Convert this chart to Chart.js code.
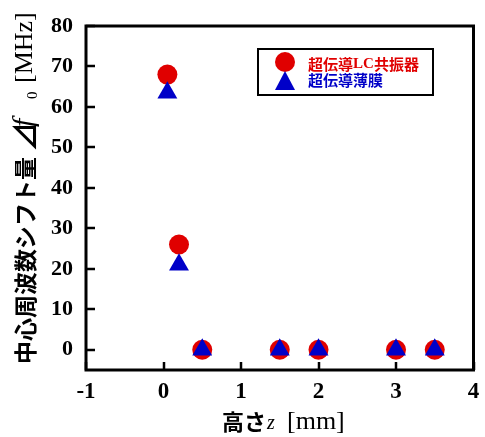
<!DOCTYPE html>
<html>
<head>
<meta charset="utf-8">
<script src="https://cdn.jsdelivr.net/npm/chart.js@4.4.0/dist/chart.umd.min.js"></script>
<style>
body{margin:0;background:#fff}
#wrap{width:485px;height:437px}
</style>
</head>
<body>
<div id="wrap"><canvas id="c" width="485" height="437"></canvas></div>
<script>
// 高さ z [mm]
var heights = [0.05, 0.2, 0.5, 1.5, 2, 3, 3.5]
// 中心周波数シフト量 [MHz]
var lcShift = [68, 26, 0, 0, 0, 0, 0]
var filmShift = [63.5, 21, 0, 0, 0, 0, 0]
var xTicks = [-1, 0, 1, 2, 3, 4]
var yTicks = [0, 10, 20, 30, 40, 50, 60, 70, 80]
var labelLC = "超伝導LC共振器"
var labelFilm = "超伝導薄膜"

var red = "#e00000"
var blue = "#0000c8"
var serif = '"Liberation Serif", "DejaVu Serif", serif'
var jp = '"Noto Sans CJK JP", sans-serif'

function pts(ys){
	var out = []
	for(var i=0;i<heights.length;i++){
		out.push({x: heights[i], y: ys[i]})
	}
	return out
}

// text pieces, each at its own offset along the line
function row(ctx, list, x, y){
	for(var i=0;i<list.length;i++){
		var p = list[i]
		ctx.font = p.font
		ctx.fillStyle = p.color || "#000"
		ctx.fillText(p.text, x + p.at, y + (p.dy || 0))
	}
}

var extras = {
	id: "extras",
	afterDraw: function(chart){
		var ctx = chart.ctx
		var a = chart.chartArea
		var xs = chart.scales.x, ys = chart.scales.y
		ctx.save()
		// frame
		ctx.strokeStyle = "#000"
		ctx.lineWidth = 3
		ctx.strokeRect(a.left, a.top, a.right - a.left, a.bottom - a.top)
		// inward ticks
		ctx.lineWidth = 2.5
		ctx.beginPath()
		for(var i=0;i<yTicks.length;i++){
			var py = Math.round(ys.getPixelForValue(yTicks[i]))
			ctx.moveTo(a.left, py)
			ctx.lineTo(a.left + 9, py)
		}
		for(var i=0;i<xTicks.length;i++){
			var px = Math.round(xs.getPixelForValue(xTicks[i]))
			ctx.moveTo(px, a.bottom)
			ctx.lineTo(px, a.bottom - 8)
		}
		ctx.stroke()

		// legend
		ctx.lineWidth = 2
		ctx.strokeRect(258, 49, 175, 46)
		ctx.fillStyle = red
		ctx.beginPath()
		ctx.arc(285, 62, 10, 0, Math.PI*2)
		ctx.fill()
		ctx.fillStyle = blue
		ctx.beginPath()
		ctx.moveTo(285, 71)
		ctx.lineTo(295, 90)
		ctx.lineTo(275, 90)
		ctx.closePath()
		ctx.fill()
		ctx.textBaseline = "middle"
		ctx.textAlign = "left"
		row(ctx, [
			{text: "超伝導", font: "bold 15px " + jp, color: red, at: 0},
			{text: "LC", font: "bold 15px " + serif, color: red, at: 45},
			{text: "共振器", font: "bold 15px " + jp, color: red, at: 66}
		], 308, 64)
		row(ctx, [{text: labelFilm, font: "bold 15px " + jp, color: blue, at: 0}], 308, 80)

		// x title
		row(ctx, [
			{text: "高さ", font: "bold 22px " + jp, at: 0},
			{text: "z", font: "italic 20px " + serif, at: 45, dy: 2},
			{text: "[mm]", font: "26px " + serif, at: 65}
		], 222, 422)

		// y title
		ctx.translate(25, 364)
		ctx.rotate(-Math.PI/2)
		row(ctx, [
			{text: "中心周波数シフト量", font: "bold 23px " + jp, at: 0},
			{text: "⊿", font: "bold 30px " + jp, at: 212},
			{text: "f", font: "italic 30px " + serif, at: 237},
			{text: "0", font: "15px " + serif, dy: 8, at: 265},
			{text: "[MHz]", font: "26px " + serif, at: 281}
		], 0, 0)
		ctx.restore()
	}
}

new Chart("c", {
	type: "scatter",
	data: {
		datasets: [
			{label: labelLC, data: pts(lcShift), backgroundColor: red, borderWidth: 0,
				pointStyle: "circle", pointRadius: 10, pointHoverRadius: 10, order: 2},
			{label: labelFilm, data: pts(filmShift), backgroundColor: blue, borderWidth: 0,
				pointStyle: "triangle", pointRadius: 11.5, pointHoverRadius: 11.5, order: 1}
		]
	},
	options: {
		responsive: false,
		animation: false,
		events: [],
		layout: {padding: {left: 0, right: 8, top: 26, bottom: 0}},
		plugins: {legend: {display: false}, tooltip: {enabled: false}},
		scales: {
			x: {
				type: "linear", min: -1, max: 4,
				afterBuildTicks: function(s){ s.ticks = xTicks.map(function(v){ return {value: v} }) },
				afterFit: function(s){ s.height = 67; s.paddingLeft = 0; s.paddingRight = 0 },
				grid: {display: false, drawTicks: false},
				border: {display: false},
				ticks: {color: "#000", padding: 8, font: {family: serif, size: 23, weight: "bold"}}
			},
			y: {
				type: "linear", min: -5, max: 80,
				afterBuildTicks: function(s){ s.ticks = yTicks.map(function(v){ return {value: v} }) },
				afterFit: function(s){ s.width = 86; s.paddingTop = 0; s.paddingBottom = 0 },
				grid: {display: false, drawTicks: false},
				border: {display: false},
				ticks: {color: "#000", padding: 13, font: {family: serif, size: 22, weight: "bold"}}
			}
		}
	},
	plugins: [extras]
})
</script>
</body>
</html>
